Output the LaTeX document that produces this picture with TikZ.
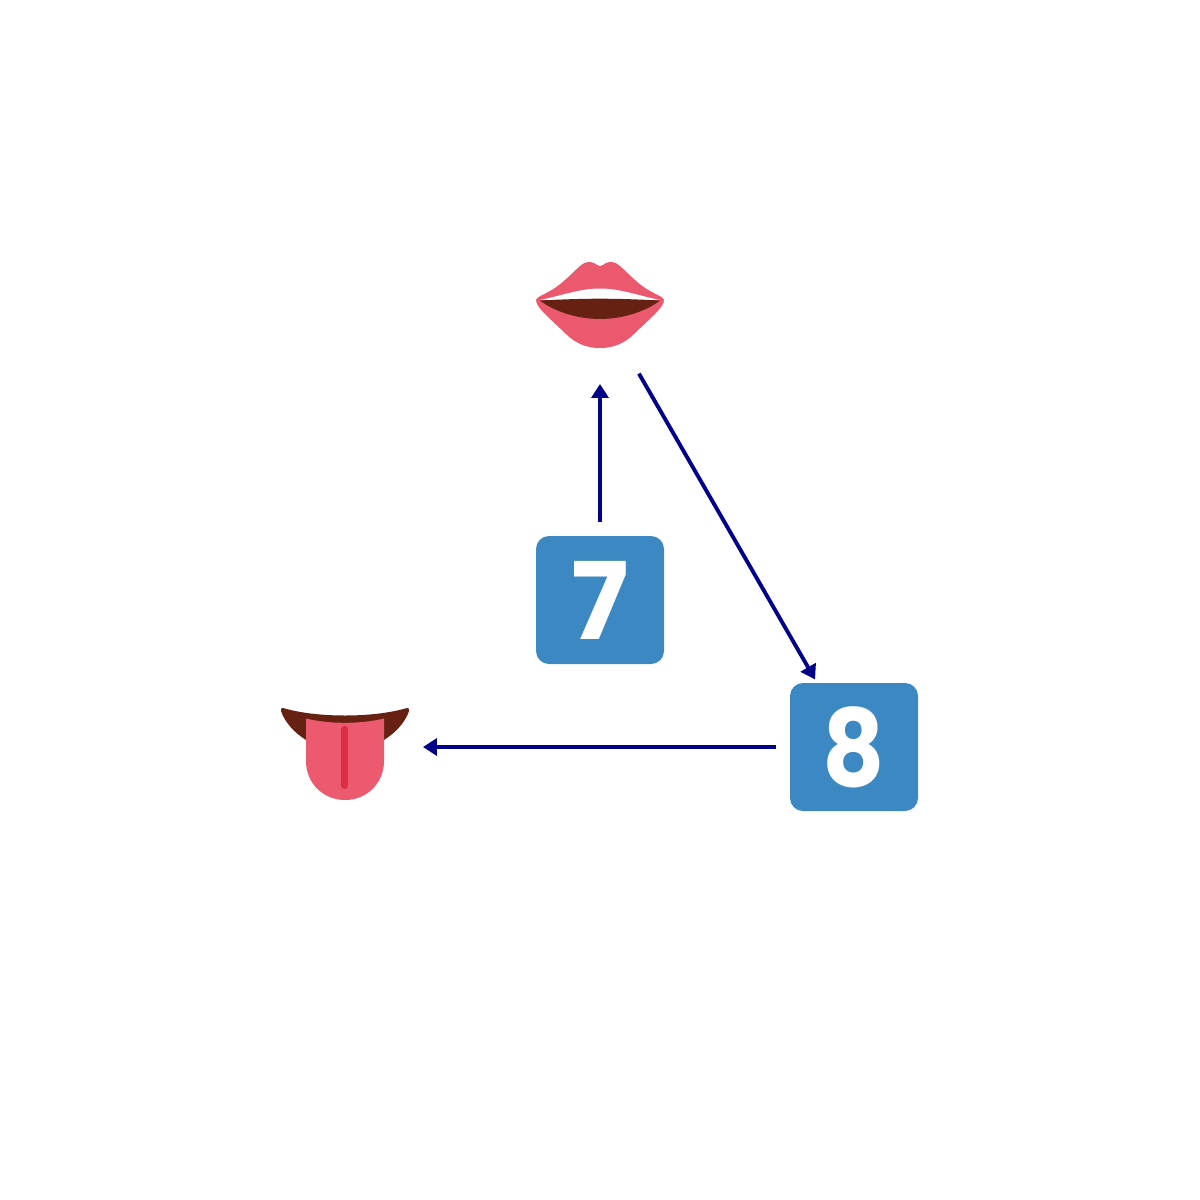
\documentclass[tikz,border=0pt]{standalone}
\usepackage{fontspec}
\usepackage{graphicx}
\newfontfamily\digitfont{Poppins}[UprightFont=* Bold]
\usetikzlibrary{arrows.meta}
\definecolor{arrowblue}{HTML}{00008B}
\definecolor{keyblue}{HTML}{3B88C3}
\definecolor{lip}{HTML}{EA596E}
\definecolor{tonguepink}{HTML}{EC5A70}
\definecolor{stripe}{HTML}{DD2E44}
\definecolor{darkbrown}{HTML}{662113}
\tikzset{
  anchorcircle/.style={circle,minimum size=3.12cm,inner sep=0pt,outer sep=0pt},
  digitlabel/.style={anchorcircle,text=white,font=\digitfont\fontsize{61}{61}\selectfont},
  keysquare/.style={fill=keyblue,rounded corners=0.26cm},
  link/.style={draw=arrowblue,line width=2.2pt,-{Triangle[length=0.28cm,width=0.34cm]}}
}
\begin{document}
\begin{tikzpicture}[x=0.02cm,y=-0.02cm]
\useasboundingbox (0,0) rectangle (1200,1200);
\fill[white] (0,0) rectangle (1200,1200);
% mouth
\fill[lip] (536,300) .. controls (537,297) and (541,296) .. (548,292)
  .. controls (560,286) and (568,277) .. (580,266)
  .. controls (584,262) and (590,261) .. (594,263)
  .. controls (597,265) and (599,266) .. (600,266)
  .. controls (601,266) and (603,265) .. (606,263)
  .. controls (610,261) and (616,262) .. (620,266)
  .. controls (632,277) and (640,286) .. (652,292)
  .. controls (659,296) and (663,297) .. (664,300)
  .. controls (664,304) and (660,309) .. (655,314)
  .. controls (648,321) and (640,328) .. (634,334)
  .. controls (625,343) and (614,348) .. (600,348)
  .. controls (586,348) and (575,343) .. (566,334)
  .. controls (560,328) and (552,321) .. (545,314)
  .. controls (540,309) and (536,304) .. (536,300) -- cycle;
\fill[white] (540,300) .. controls (560,296) and (580,288.5) .. (600,288.5)
  .. controls (620,288.5) and (640,296) .. (660,300) -- cycle;
\fill[darkbrown] (540,300.5) .. controls (560,299.5) and (580,298.7) .. (600,298.7)
  .. controls (620,298.7) and (640,299.5) .. (660,300.5)
  .. controls (648,310) and (625,319) .. (600,319)
  .. controls (575,319) and (552,310) .. (540,300.5) -- cycle;
% tongue
\fill[darkbrown] (283,708) .. controls (300,713) and (322,715.5) .. (345,715.5)
  .. controls (368,715.5) and (390,713) .. (407,708)
  .. controls (409,708) and (409.5,709) .. (409,711)
  .. controls (405,723) and (395,733) .. (384,740)
  -- (306,740)
  .. controls (295,733) and (285,723) .. (281,711)
  .. controls (280.5,709) and (281,708) .. (283,708) -- cycle;
\fill[tonguepink] (306,718.5) .. controls (318,721.5) and (332,722.8) .. (345,722.8)
  .. controls (358,722.8) and (372,721.5) .. (384,718.5)
  -- (384,761) .. controls (384,783) and (367,800) .. (345,800)
  .. controls (323,800) and (306,783) .. (306,761) -- cycle;
\draw[stripe,line width=0.14cm,line cap=round] (344.8,729.2) -- (344.8,785.5);
% keycaps
\fill[keysquare] (536,536) rectangle (664,664);
\fill[keysquare] (790,683) rectangle (918,811);
% nodes
\node[anchorcircle] (mouth) at (600,306) {};
\node[anchorcircle] (tongue) at (345,747) {};
\node[digitlabel] (seven) at (600,600) {7};
\node[digitlabel] (eight) at (854,747) {\scalebox{0.9}[1]{8}};
% connectors
\draw[link] (seven) -- (mouth);
\draw[link] (mouth) -- (eight);
\draw[link] (eight) -- (tongue);
\end{tikzpicture}
\end{document}
